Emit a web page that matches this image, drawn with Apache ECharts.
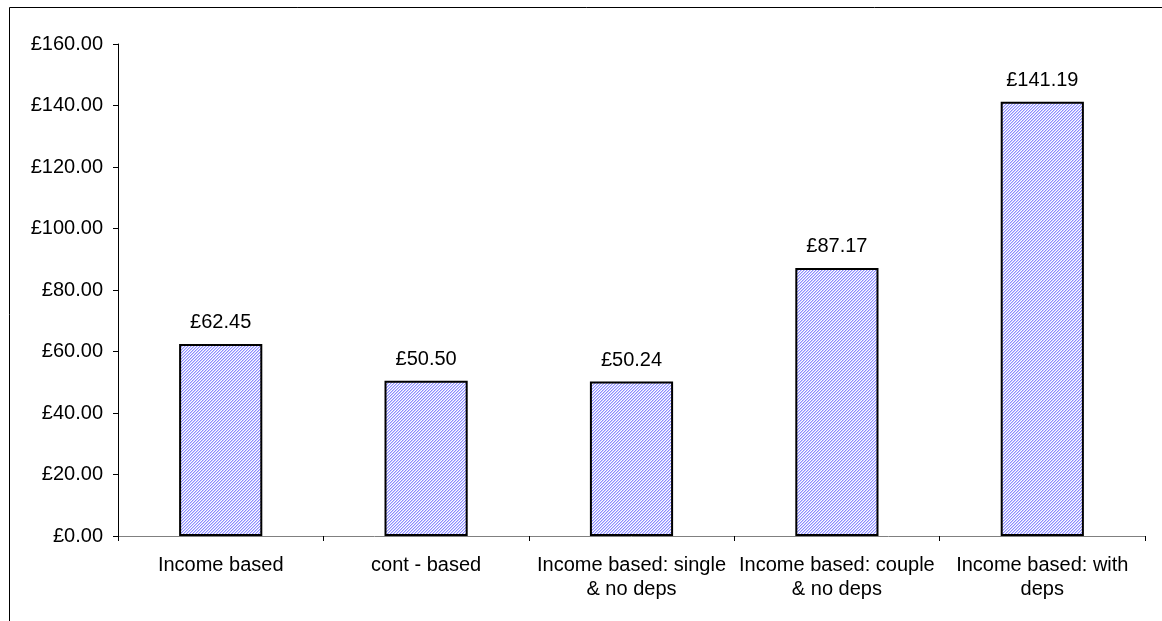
<!DOCTYPE html>
<html><head><meta charset="utf-8">
<script src="https://cdn.jsdelivr.net/npm/echarts@6/dist/echarts.min.js"></script>
<style>html,body{margin:0;padding:0;background:#fff}#c{width:1162px;height:621px}</style>
</head><body><div id="c"></div>
<script>
const categories = ['Income based', 'cont - based', 'Income based: single\n& no deps', 'Income based: couple\n& no deps', 'Income based: with\ndeps'];
const values = [62.45, 50.50, 50.24, 87.17, 141.19];
const yTicks = [0, 20, 40, 60, 80, 100, 120, 140, 160];

const pc = document.createElement('canvas');
pc.width = 3; pc.height = 3;
const px = pc.getContext('2d');
px.fillStyle = '#ffffff'; px.fillRect(0,0,3,3);
for (let i = 0; i < 3; i++) {
  px.fillStyle = '#8c8cff'; px.fillRect((2 - i + 3) % 3, i, 1, 1);
  px.fillStyle = '#cacaff'; px.fillRect((3 - i + 3) % 3, i, 1, 1);
}

const chart = echarts.init(document.getElementById('c'), null, {renderer:'canvas'});
const font = 'Liberation Sans, Arial, sans-serif';
chart.setOption({
  animation:false,
  graphic:[{type:'rect', shape:{x:9.5,y:7.5,width:1200,height:700}, style:{fill:'none', stroke:'#000', lineWidth:1}, z:-1}],
  grid:{left:118, right:17, top:44, bottom:85},
  xAxis:{type:'category', data:categories,
    axisLine:{lineStyle:{color:'#808080', width:1}},
    axisTick:{show:true, length:5, lineStyle:{color:'#000'}},
    axisLabel:{color:'#000', fontFamily:font, fontSize:20, margin:17, lineHeight:24, interval:0}},
  yAxis:{type:'value', min:yTicks[0], max:yTicks[yTicks.length-1], interval:20,
    axisLine:{show:true, lineStyle:{color:'#000'}},
    axisTick:{show:true, length:5, lineStyle:{color:'#000'}},
    splitLine:{show:false},
    axisLabel:{color:'#000', fontFamily:font, fontSize:20, margin:15, formatter:v=>'£'+v.toFixed(2)}},
  series:[{type:'bar', data:values, barWidth:'40.5%',
    itemStyle:{color:{image:pc, repeat:'repeat'}, borderColor:'#000', borderWidth:2},
    label:{show:true, position:'top', distance:11, color:'#000', fontFamily:font, fontSize:20, formatter:p=>'£'+p.value.toFixed(2)}}]
});
</script></body></html>
